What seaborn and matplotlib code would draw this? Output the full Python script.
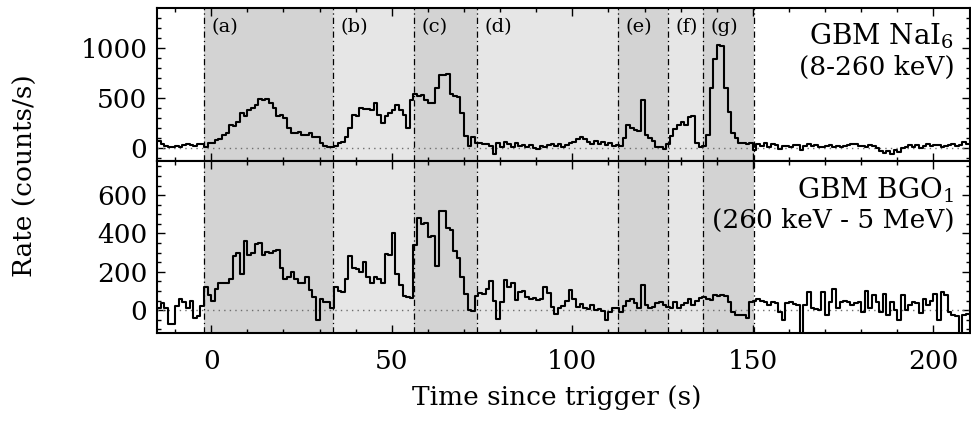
import numpy as np
import pandas as pd
import matplotlib
matplotlib.use("Agg")
import matplotlib.pyplot as plt
from matplotlib.ticker import MultipleLocator
import seaborn as sns

# 1-s light curves, first bin starts at t = -15 s
t_first = -15
bin_width = 1.0

nai_rate = [
    70, 40, 20, 15, 10, 20, 15, 30, 40, 35, 25, 45, 40, 10, 50,          # -15
    50, 85, 90, 130, 150, 230, 220, 265, 350, 320, 380, 400, 430, 490, 485,  # 0
    490, 450, 400, 320, 330, 300, 200, 150, 150, 165, 130, 130, 150, 115, 110,  # 15
    50, 20, 15, 15, 20, 50, 60, 115, 200, 330, 320, 400, 390, 395, 385,  # 30
    450, 330, 250, 320, 350, 380, 430, 380, 330, 200, 480, 540, 520, 530, 480,  # 45
    450, 450, 600, 730, 725, 735, 540, 520, 510, 350, 120, 20, 110, 50, 50,  # 60
    45, 40, 20, -60, 50, 10, 60, 40, 15, 55, 20, 35, 10, 30, 5,          # 75
    -10, 20, 10, 30, 40, 20, 45, 10, 30, 50, 60, 90, 110, 90, 60,        # 90
    40, 70, 45, 60, 30, 50, 20, 30, 20, 100, 230, 200, 180, 170, 480,    # 105
    130, 100, 70, 15, 10, -10, 40, 120, 190, 230, 260, 230, 310, 320, 50,  # 120
    15, 20, 130, 600, 890, 1030, 1020, 600, 360, 150, 100, 55, 50, 45, 50,  # 135
    -15, 40, 20, 50, 10, 45, 30, -10, 25, 20, 10, 35, 30, -20, 25,       # 150
    40, 20, 30, 15, 10, 20, 30, 15, 25, 10, 20, 30, 45, 40, 25,          # 165
    20, 10, 30, 20, 0, -30, -50, -30, -60, -20, -40, 0, 10, 35, 15,      # 180
    30, 0, 25, 40, 20, 35, 30, 10, 25, 30, 45, 20, 30, 60, 40,           # 195
]

bgo_rate = [
    10, 35, 10, -70, -70, 20, 60, 40, 10, 50, -40, -30, 20, 120, 80,     # -15
    50, 110, 140, 140, 140, 165, 280, 300, 190, 360, 290, 300, 345, 350, 290,  # 0
    305, 300, 310, 315, 220, 165, 175, 200, 165, 140, 140, 175, 105, 70, -50,  # 15
    60, 40, 40, 10, 120, 100, 95, 160, 280, 220, 215, 200, 250, 175, 140,  # 30
    175, 165, 140, 295, 290, 400, 190, 130, 75, 70, 65, 340, 480, 450, 455,  # 45
    380, 385, 230, 520, 515, 430, 420, 310, 270, 175, 85, 0, -5, 75, 90,  # 60
    85, 110, 150, 45, -45, 40, 155, 120, 140, 55, 95, 100, 70, 60, 65,   # 75
    55, 60, 120, 90, 15, -20, 10, 20, 45, 105, 60, 15, 30, 10, 5,        # 90
    25, 0, 5, -5, -50, -10, 10, 10, -10, 20, 45, 60, 35, 10, 130,        # 105
    25, 10, 15, 35, 40, 25, 15, 10, 40, 10, 25, 35, 60, 25, 50,          # 120
    65, 70, 60, 55, 80, 75, 80, 75, 40, -10, -25, -25, -25, -40, 40,     # 135
    50, 60, 45, 40, 25, 40, 35, -10, -50, 35, 40, 30, 25, -150, 25,      # 150
    95, 10, 5, 0, 95, -25, 40, 110, 10, 40, 45, 40, 25, 35, 40,          # 165
    -10, 100, 10, 80, 40, -10, 85, -25, 40, 0, -50, 80, 0, 25, 40,       # 180
    35, -15, 60, 25, 50, 85, -50, 95, 80, -10, -25, -30, -150, -25, -20,  # 195
]

# Time intervals used for the spectral analysis
interval_edges = [-2.1, 33.6, 56.2, 73.6, 112.6, 126.5, 136.1, 150.2]
interval_names = ["(a)", "(b)", "(c)", "(d)", "(e)", "(f)", "(g)"]

nai_title = ["GBM NaI$_6$", "(8-260 keV)"]
bgo_title = ["GBM BGO$_1$", "(260 keV - 5 MeV)"]

sns.set_theme(style="ticks")
plt.rcParams.update({
    "font.family": ["DejaVu Serif"],
    "mathtext.fontset": "dejavuserif",
    "text.color": "black",
    "axes.labelcolor": "black",
    "axes.linewidth": 1.5,
    "axes.edgecolor": "black",
    "xtick.direction": "in",
    "ytick.direction": "in",
    "xtick.top": True,
    "ytick.right": True,
    "xtick.major.size": 6,
    "ytick.major.size": 6,
    "xtick.minor.size": 3,
    "ytick.minor.size": 3,
    "xtick.major.width": 1.0,
    "ytick.major.width": 1.0,
    "xtick.minor.width": 1.0,
    "ytick.minor.width": 1.0,
    "xtick.color": "black",
    "ytick.color": "black",
    "xtick.labelcolor": "black",
    "ytick.labelcolor": "black",
})

FS = 19

def step_frame(rates):
    edges = t_first + bin_width * np.arange(len(rates) + 1)
    vals = list(rates) + [rates[-1]]
    return pd.DataFrame({"time": edges, "rate": vals})

fig = plt.figure(figsize=(9.71, 4.21), dpi=100)
left = 157 / 971
width = (969.5 - 157) / 971
ax1 = fig.add_axes([left, 0.6183, width, 0.3620])
ax2 = fig.add_axes([left, 0.2097, width, 0.4086])

shade = ["#d3d3d3", "#e6e6e6"]

panels = [
    (ax1, nai_rate, (-123, 1392), 500, 100, nai_title),
    (ax2, bgo_rate, (-118, 780), 200, 50, bgo_title),
]

for ax, rates, ylim, major, minor, title in panels:
    for i in range(len(interval_names)):
        ax.axvspan(interval_edges[i], interval_edges[i + 1],
                   color=shade[i % 2], lw=0, zorder=0)
    for edge in interval_edges:
        ax.axvline(edge, color="black", lw=0.9,
                   ls=(0, (5, 2.5, 1, 2.5)), zorder=1)
    ax.axhline(0, color="#6e6e6e", lw=1.0, ls=(0, (1, 3)), zorder=1)
    sns.lineplot(data=step_frame(rates), x="time", y="rate", ax=ax,
                 drawstyle="steps-post", color="black", lw=1.5,
                 estimator=None, sort=False, zorder=3)
    ax.set_xlim(-15, 210)
    ax.set_ylim(*ylim)
    ax.xaxis.set_major_locator(MultipleLocator(50))
    ax.xaxis.set_minor_locator(MultipleLocator(10))
    ax.yaxis.set_major_locator(MultipleLocator(major))
    ax.yaxis.set_minor_locator(MultipleLocator(minor))
    ax.set_xlabel("")
    ax.set_ylabel("")
    ax.tick_params(axis="both", which="both", labelsize=FS)
    ax.tick_params(axis="y", pad=7)
    ax.tick_params(axis="x", pad=12)
    for side in ("top", "right", "left", "bottom"):
        ax.spines[side].set_visible(True)

ax1.tick_params(axis="x", labelbottom=False)

ax1.text(0.9815, 0.814, nai_title[0], transform=ax1.transAxes,
         ha="right", va="center", fontsize=FS + 1)
ax1.text(0.9815, 0.615, nai_title[1], transform=ax1.transAxes,
         ha="right", va="center", fontsize=FS)
ax2.text(0.9815, 0.830, bgo_title[0], transform=ax2.transAxes,
         ha="right", va="center", fontsize=FS + 1)
ax2.text(0.9815, 0.655, bgo_title[1], transform=ax2.transAxes,
         ha="right", va="center", fontsize=FS)

for i, name in enumerate(interval_names):
    ax1.annotate(name, xy=(interval_edges[i], 0.875),
                 xycoords=("data", "axes fraction"),
                 xytext=(5.5, 0), textcoords="offset points",
                 ha="left", va="center", fontsize=14)

fig.text(0.026, 0.584, "Rate (counts/s)", rotation=90,
         ha="center", va="center", fontsize=FS)
fig.text(0.573, 0.055, "Time since trigger (s)",
         ha="center", va="center", fontsize=FS)

fig.savefig("out.png", dpi=100)
